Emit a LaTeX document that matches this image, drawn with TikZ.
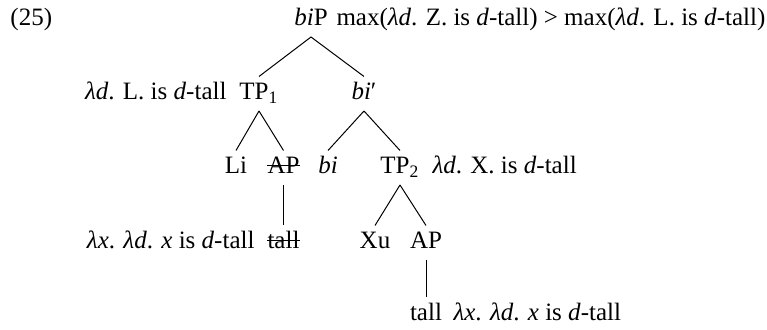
\documentclass[tikz,border=0pt]{standalone}
\usepackage{fontspec}
\setmainfont{Liberation Serif}
\begin{document}
\begin{tikzpicture}[x=0.4pt,y=-0.4pt,
  cat/.style={inner sep=0pt, anchor=base, text height=9.2pt, text depth=4.2pt},
  sem/.style={inner sep=0pt},
  edge/.style={line width=0.4pt},
  strike/.style={line width=0.4pt}]
\useasboundingbox (0,0) rectangle (767,330);

% example number
\node[sem, anchor=base west] (exnum) at (10,26) {(25)};

% tree categories
\node[cat] (biP) at (311,26) {\textit{bi}P};
\node[cat] (TPa) at (259,100) {TP\textsubscript{1}};
\node[cat] (bibar) at (364,100) {\textit{bi}′};
\node[cat] (Li) at (236,174) {Li};
\node[cat] (APa) at (283.5,174) {AP};
\node[cat] (bi) at (328,174) {\textit{bi}};
\node[cat] (TPb) at (400,174) {TP\textsubscript{2}};
\node[cat] (talla) at (283.5,249) {tall};
\node[cat] (Xu) at (375,249) {Xu};
\node[cat] (APb) at (426,249) {AP};
\node[cat] (tallb) at (426,321) {tall};

% semantic annotations
\node[sem, anchor=base west] (biPsem) at (336,26)
  {max(\textit{λd}. Z. is \textit{d}-tall) > max(\textit{λd}. L. is \textit{d}-tall)};
\node[sem, anchor=base east] (TPasem) at (227,100) {\textit{λd}. L. is \textit{d}-tall};
\node[sem, anchor=base west] (TPbsem) at (432,174) {\textit{λd}. X. is \textit{d}-tall};
\node[sem, anchor=base east] (tallasem) at (255,249) {\textit{λx}. \textit{λd}. \textit{x} is \textit{d}-tall};
\node[sem, anchor=base west] (tallbsem) at (453,321) {\textit{λx}. \textit{λd}. \textit{x} is \textit{d}-tall};

% branches
\draw[edge] (biP.south) -- (TPa.north);
\draw[edge] (biP.south) -- (bibar.north);
\draw[edge] (TPa.south) -- (Li.north);
\draw[edge] (TPa.south) -- (APa.north);
\draw[edge] (bibar.south) -- (bi.north);
\draw[edge] (bibar.south) -- (TPb.north);
\draw[edge] (APa.south) -- (talla.north);
\draw[edge] (TPb.south) -- (Xu.north);
\draw[edge] (TPb.south) -- (APb.north);
\draw[edge] (APb.south) -- (tallb.north);

% elided material is struck through
\draw[strike] ([yshift=3.2pt]APa.base west) -- ([yshift=3.2pt]APa.base east);
\draw[strike] ([yshift=3.4pt]talla.base west) -- ([yshift=3.4pt]talla.base east);
\end{tikzpicture}
\end{document}
